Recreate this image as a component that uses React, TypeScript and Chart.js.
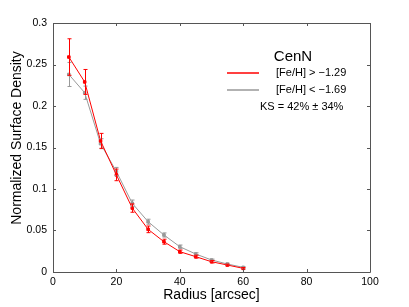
import React, { useEffect, useRef } from "react";
import { Chart, registerables } from "chart.js";

Chart.register(...registerables);

const radii = [5, 10, 15, 20, 25, 30, 35, 40, 45, 50, 55, 60];
const metalRichDensity = [0.259, 0.229, 0.158, 0.117, 0.077, 0.0514, 0.0365, 0.0245, 0.0185, 0.0124, 0.0084, 0.0044];
const metalRichError = [0.022, 0.015, 0.009, 0.007, 0.005, 0.004, 0.003, 0.002, 0.0018, 0.0015, 0.001, 0.001];
const metalPoorDensity = [0.238, 0.216, 0.1546, 0.121, 0.0827, 0.0606, 0.0446, 0.0305, 0.0217, 0.0145, 0.0096, 0.0056];
const metalPoorError = [0.0145, 0.008, 0.006, 0.005, 0.004, 0.003, 0.0025, 0.002, 0.0015, 0.001, 0.001, 0.001];

const xTickValues = [0, 20, 40, 60, 80, 100];
const yTickValues = [0, 0.05, 0.1, 0.15, 0.2, 0.25, 0.3];
const yTickLabels = ["0", "0.05", "0.1", "0.15", "0.2", "0.25", "0.3"];

const xTitle = "Radius [arcsec]";
const yTitle = "Normalized Surface Density";
const legendTitle = "CenN";
const richLabel = "[Fe/H] > \u22121.29";
const poorLabel = "[Fe/H] < \u22121.69";
const ksLabel = "KS = 42% \u00b1 34%";

const RED = "rgb(255,0,0)";
const GRAY = "#999999";
const FONT = "'Liberation Sans', Arial, Helvetica, sans-serif";

const errorBarPlugin = {
  id: "errorBars",
  afterDatasetsDraw(chart: any) {
    const { ctx, scales } = chart;
    const xs = scales.x;
    const ys = scales.y;
    const sets = [
      { d: metalPoorDensity, e: metalPoorError, c: GRAY },
      { d: metalRichDensity, e: metalRichError, c: RED },
    ];
    ctx.save();
    ctx.lineWidth = 1;
    for (const s of sets) {
      ctx.strokeStyle = s.c;
      for (let i = 0; i < radii.length; i++) {
        const x = Math.round(xs.getPixelForValue(radii[i])) + 0.5;
        const yTop = ys.getPixelForValue(s.d[i] + s.e[i]);
        const yBot = ys.getPixelForValue(s.d[i] - s.e[i]);
        ctx.beginPath();
        ctx.moveTo(x, yTop);
        ctx.lineTo(x, yBot);
        ctx.moveTo(x - 2, yTop);
        ctx.lineTo(x + 2, yTop);
        ctx.moveTo(x - 2, yBot);
        ctx.lineTo(x + 2, yBot);
        ctx.stroke();
      }
    }
    ctx.restore();
  },
};

const boxPlugin = {
  id: "boxAndLegend",
  afterDraw(chart: any) {
    const { ctx, chartArea, scales } = chart;
    const { left, right, top, bottom } = chartArea;
    ctx.save();
    ctx.strokeStyle = "#555";
    ctx.lineWidth = 1;
    ctx.beginPath();
    ctx.rect(Math.round(left) + 0.5, Math.round(top) + 0.5, Math.round(right - left), Math.round(bottom - top));
    ctx.stroke();
    // inward ticks on all four sides
    ctx.beginPath();
    for (const v of xTickValues) {
      const x = Math.round(scales.x.getPixelForValue(v)) + 0.5;
      ctx.moveTo(x, bottom);
      ctx.lineTo(x, bottom - 3);
      ctx.moveTo(x, top);
      ctx.lineTo(x, top + 3);
    }
    for (const v of yTickValues) {
      const y = Math.round(scales.y.getPixelForValue(v)) + 0.5;
      ctx.moveTo(left, y);
      ctx.lineTo(left + 3, y);
      ctx.moveTo(right, y);
      ctx.lineTo(right - 3, y);
    }
    ctx.stroke();

    // y-axis title
    ctx.save();
    ctx.fillStyle = "#000";
    ctx.font = `14px ${FONT}`;
    ctx.textAlign = "center";
    ctx.textBaseline = "middle";
    ctx.translate(17.5, 138);
    ctx.rotate(-Math.PI / 2);
    ctx.fillText(yTitle, 0, 0);
    ctx.restore();

    // legend
    ctx.fillStyle = "#000";
    ctx.textBaseline = "middle";
    ctx.textAlign = "center";
    ctx.font = `15px ${FONT}`;
    ctx.fillText(legendTitle, 293, 57);
    ctx.font = `11px ${FONT}`;
    ctx.textAlign = "left";
    ctx.fillText(richLabel, 276, 73);
    ctx.fillText(poorLabel, 276, 90);
    ctx.fillText(ksLabel, 260, 107);
    ctx.lineWidth = 1.5;
    ctx.strokeStyle = RED;
    ctx.beginPath();
    ctx.moveTo(227, 73);
    ctx.lineTo(259, 73);
    ctx.stroke();
    ctx.strokeStyle = GRAY;
    ctx.beginPath();
    ctx.moveTo(227, 90);
    ctx.lineTo(259, 90);
    ctx.stroke();
    ctx.restore();
  },
};

export default function App() {
  const canvasRef = useRef<HTMLCanvasElement | null>(null);

  useEffect(() => {
    if (!canvasRef.current) return;
    const chart = new Chart(canvasRef.current, {
      type: "scatter",
      data: {
        datasets: [
          {
            label: richLabel,
            data: radii.map((r, i) => ({ x: r, y: metalRichDensity[i] })),
            showLine: true,
            borderColor: RED,
            backgroundColor: RED,
            borderWidth: 1,
            pointStyle: "rect",
            pointRadius: 1.8,
            pointBorderWidth: 1,
          },
          {
            label: poorLabel,
            data: radii.map((r, i) => ({ x: r, y: metalPoorDensity[i] })),
            showLine: true,
            borderColor: GRAY,
            backgroundColor: GRAY,
            borderWidth: 1,
            pointStyle: "rect",
            pointRadius: 1.8,
            pointBorderWidth: 1,
          },
        ],
      },
      options: {
        animation: false,
        responsive: false,
        maintainAspectRatio: false,
        layout: { padding: { left: 0, top: 23, right: 39, bottom: 0 } },
        plugins: { legend: { display: false }, tooltip: { enabled: false } },
        scales: {
          x: {
            type: "linear",
            min: 0,
            max: 100,
            afterBuildTicks: (scale: any) => {
              scale.ticks = xTickValues.map((v) => ({ value: v }));
            },
            afterFit: (scale: any) => {
              scale.height = 35;
            },
            grid: { display: false, drawTicks: false },
            border: { display: false },
            ticks: { color: "#000", font: { family: FONT, size: 10.5 }, padding: 4, maxRotation: 0 },
            title: {
              display: true,
              text: xTitle,
              color: "#000",
              font: { family: FONT, size: 14 },
              padding: { top: 0, bottom: 3 },
            },
          },
          y: {
            type: "linear",
            min: 0,
            max: 0.3,
            afterBuildTicks: (scale: any) => {
              scale.ticks = yTickValues.map((v) => ({ value: v }));
            },
            afterFit: (scale: any) => {
              scale.width = 53;
            },
            grid: { display: false, drawTicks: false },
            border: { display: false },
            ticks: {
              color: "#000",
              font: { family: FONT, size: 10.5 },
              padding: 6,
              callback: (v: any) => {
                const idx = yTickValues.findIndex((t) => Math.abs(t - Number(v)) < 1e-9);
                return idx >= 0 ? yTickLabels[idx] : "";
              },
            },
            title: { display: false },
          },
        },
      },
      plugins: [errorBarPlugin, boxPlugin],
    });
    return () => chart.destroy();
  }, []);

  return (
    <div style={{ position: "fixed", left: 0, top: 0, width: 409, height: 307, background: "#fff" }}>
      <canvas ref={canvasRef} width={409} height={307} style={{ width: 409, height: 307 }} />
    </div>
  );
}
